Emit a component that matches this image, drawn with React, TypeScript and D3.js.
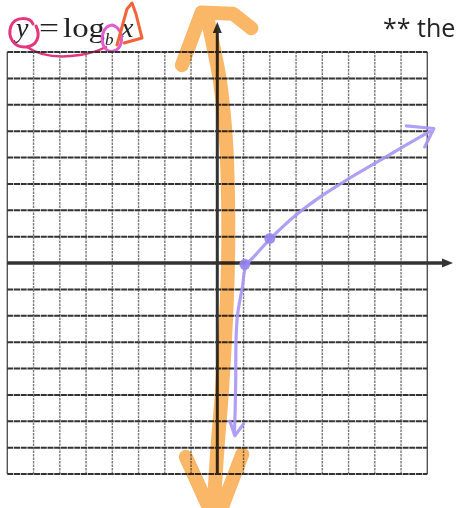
import React from "react";
import * as d3 from "d3";

// Grid extent in graph units
const gridMin = -8;
const gridMax = 8;
const gridTicks = d3.range(gridMin, gridMax + 1);

// Hand-sketched curve y = log_b(x), traced in graph units (x, y)
const curveX = [0.65, 0.68, 0.7, 0.72, 0.78, 0.95, 1.1, 1.45, 2.0, 3.0, 4.06, 4.98, 6.0, 7.1, 8.1];
const curveY = [-6.5, -5.6, -4.5, -2.7, -1.9, -0.95, -0.1, 0.3, 0.9, 1.82, 2.6, 3.18, 3.78, 4.42, 4.99];

// Marked points on the curve
const dotX = [1.05, 2.0];
const dotY = [-0.05, 0.93];

// Arrow-head strokes at both ends of the curve
const curveTipLow = [[0.48, -6.0], [0.67, -6.55], [1.0, -6.1]];
const curveTipHigh = [[7.2, 5.2], [8.25, 5.1], [7.9, 4.4]];

// Highlighter double arrow along the y-axis
const markerShaftX = [-0.4, -0.2, 0.1, 0.33, 0.41, 0.41, 0.33, 0.18, 0.0, -0.13];
const markerShaftY = [9.4, 8.45, 6.9, 4.65, 2.39, 0.11, -2.16, -4.82, -7.1, -9.1];
const markerTopHead = [[-1.35, 7.5], [-0.6, 9.5], [0.6, 9.45], [1.3, 8.9]];
const markerBottomHead = [[-1.2, -7.35], [-0.4, -9.1], [0.2, -9.2], [0.95, -7.25]];

// Title and side note
const titleText = { y: "y", eq: "=", log: "log", base: "b", arg: "x" };
const noteText = "** the";

const W = 456;
const H = 508;

export default function App() {
  const x = d3.scaleLinear().domain([gridMin, gridMax]).range([7.3, 427.3]);
  const y = d3.scaleLinear().domain([gridMin, gridMax]).range([474, 52]);

  const line = d3
    .line<[number, number]>()
    .x((d) => x(d[0]))
    .y((d) => y(d[1]))
    .curve(d3.curveCatmullRom.alpha(0.5));
  const straight = d3
    .line<[number, number]>()
    .x((d) => x(d[0]))
    .y((d) => y(d[1]));

  const curvePts: [number, number][] = curveX.map((v, i) => [v, curveY[i]]);
  const shaftPts: [number, number][] = markerShaftX.map((v, i) => [v, markerShaftY[i]]);

  const x0 = x(0);
  const y0 = y(0);

  const orange = "#f8aa4c";
  const purple = "#a796f4";

  return (
    <svg
      width={W}
      height={H}
      style={{ position: "absolute", left: 0, top: 0, background: "#fff" }}
      xmlns="http://www.w3.org/2000/svg"
    >
      <rect width={W} height={H} fill="#fff" />

      {/* title: y = log_b x */}
      <g fontFamily="'Liberation Serif', 'DejaVu Serif', serif" fill="#222">
        <text x={16} y={37} fontSize={28} fontStyle="italic">{titleText.y}</text>
        <text x={39} y={37} fontSize={28} textLength={20} lengthAdjust="spacingAndGlyphs">{titleText.eq}</text>
        <text x={63} y={37} fontSize={28} textLength={42} lengthAdjust="spacingAndGlyphs">{titleText.log}</text>
        <text x={105} y={45} fontSize={17} fontStyle="italic">{titleText.base}</text>
        <text x={121} y={37} fontSize={28} fontStyle="italic">{titleText.arg}</text>
      </g>
      <text x={383} y={37} fontFamily="'Open Sans', Lato, sans-serif" fontSize={25} fill="#222">
        {noteText}
      </text>

      {/* pen marks on the title */}
      <g fill="none" strokeLinecap="round" strokeLinejoin="round">
        <path d="M33,24 C30,17 15,16 11,26 C7,37 14,48 26,47 C37,46 41,36 36,26" stroke="#e4357d" strokeWidth={3} />
        <path d="M27,47 C40,56 60,58 80,55 C92,53 100,50 106,47" stroke="#e4357d" strokeWidth={2.5} />
        <path d="M112,25 C103,26 100,38 104,47 C109,54 119,52 121,43 C123,34 119,27 112,25" stroke="#e05cd0" strokeWidth={3} />
        <path d="M117,45 L127,9 L132,3 L136,14 L142,38 L124,43" stroke="#f0643a" strokeWidth={3} />
      </g>

      {/* grid */}
      <g>
        {gridTicks.map((t) => (
          <line
            key={"v" + t}
            x1={x(t)}
            x2={x(t)}
            y1={y(gridMin)}
            y2={y(gridMax)}
            stroke={t === gridMin || t === gridMax ? "#555" : "#7a7a7a"}
            strokeWidth={1.4}
            strokeDasharray={t === gridMin || t === gridMax ? undefined : "2.5 1"}
          />
        ))}
        {gridTicks.map((t) => (
          <line
            key={"h" + t}
            x1={x(gridMin)}
            x2={x(gridMax)}
            y1={y(t)}
            y2={y(t)}
            stroke="#333"
            strokeWidth={2}
            strokeDasharray="6 0.7"
          />
        ))}
      </g>

      {/* axes */}
      <g stroke="#333" fill="#333">
        <line x1={x0} x2={x0} y1={y(gridMin) + 1} y2={31} strokeWidth={3} />
        <path d={`M${x0},22 L${x0 - 4.5},33 L${x0 + 4.5},33 Z`} stroke="none" />
        <line x1={x(gridMin)} x2={444} y1={y0} y2={y0} strokeWidth={3.5} />
        <path d={`M453,${y0} L442,${y0 - 4.5} L442,${y0 + 4.5} Z`} stroke="none" />
      </g>

      {/* highlighter double arrow */}
      <g
        fill="none"
        stroke={orange}
        strokeWidth={14}
        strokeLinecap="round"
        strokeLinejoin="round"
        opacity={0.85}
        style={{ mixBlendMode: "multiply" }}
      >
        <path d={line(shaftPts) || ""} />
        <path d={straight(markerTopHead as [number, number][]) || ""} />
        <path d={straight(markerBottomHead as [number, number][]) || ""} />
      </g>

      {/* sketched log curve */}
      <g fill="none" stroke={purple} strokeWidth={3.2} strokeLinecap="round" strokeLinejoin="round" opacity={0.9}>
        <path d={line(curvePts) || ""} />
        <path d={straight(curveTipLow as [number, number][]) || ""} />
        <path d={straight(curveTipHigh as [number, number][]) || ""} />
      </g>
      {dotX.map((v, i) => (
        <circle key={i} cx={x(v)} cy={y(dotY[i])} r={5.5} fill="#9586ee" opacity={0.9} />
      ))}
    </svg>
  );
}
